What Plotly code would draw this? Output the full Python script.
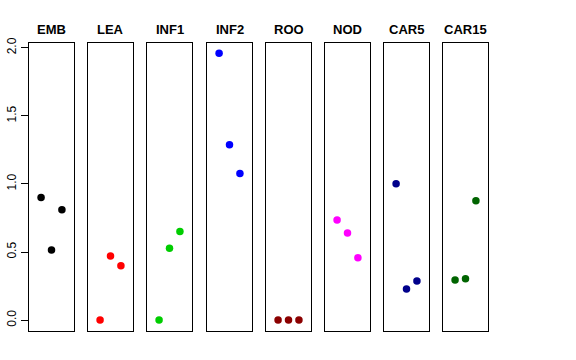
import plotly.graph_objects as go

categories = ["EMB", "LEA", "INF1", "INF2", "ROO", "NOD", "CAR5", "CAR15"]
colors = ["#000000", "#FF0000", "#00CD00", "#0000FF", "#8B0000", "#FF00FF", "#00008B", "#006400"]
positions = [1, 2, 3]
values = {
    "EMB": [0.90, 0.515, 0.81],
    "LEA": [0.0, 0.47, 0.40],
    "INF1": [0.0, 0.527, 0.651],
    "INF2": [1.96, 1.287, 1.076],
    "ROO": [0.0, 0.0, 0.0],
    "NOD": [0.735, 0.64, 0.458],
    "CAR5": [1.002, 0.228, 0.287],
    "CAR15": [0.294, 0.304, 0.877],
}
y_ticks = [0, 0.5, 1.0, 1.5, 2.0]
y_tick_labels = ["0.0", "0.5", "1.0", "1.5", "2.0"]

W, H = 576, 360
lefts = [29, 88, 147, 207, 266, 325, 384, 443]
pw = 45
top_px, bot_px = 43, 331

fig = go.Figure()
layout = dict(
    width=W, height=H, margin=dict(l=0, r=0, t=0, b=0, autoexpand=False),
    paper_bgcolor="white", plot_bgcolor="white", showlegend=False,
    font=dict(family="Liberation Sans, Arial, sans-serif", color="black"),
)
annotations = []
for i, cat in enumerate(categories):
    n = i + 1
    xa = "x" if n == 1 else f"x{n}"
    ya = "y" if n == 1 else f"y{n}"
    fig.add_trace(go.Scatter(
        x=positions, y=values[cat], mode="markers",
        marker=dict(color=colors[i], size=7.5, line=dict(width=0)),
        xaxis=xa, yaxis=ya, hoverinfo="skip",
    ))
    x0 = lefts[i] / W
    x1 = (lefts[i] + pw) / W
    layout["xaxis" if n == 1 else f"xaxis{n}"] = dict(
        domain=[x0, x1], range=[-0.16, 4.16], showticklabels=False, ticks="",
        showgrid=False, zeroline=False, showline=True, mirror=True,
        linecolor="black", linewidth=1, anchor=ya, fixedrange=True,
        automargin=False,
    )
    yax = dict(
        domain=[1 - bot_px / H, 1 - top_px / H], range=[-0.08, 2.035],
        showgrid=False, zeroline=False, showline=True, mirror=True,
        linecolor="black", linewidth=1, anchor=xa, fixedrange=True,
        automargin=False,
    )
    if n == 1:
        yax.update(tickvals=y_ticks, ticktext=y_tick_labels, ticks="outside",
                   ticklen=7, tickwidth=1, tickcolor="black", tickangle=-90,
                   tickfont=dict(size=12, color="black"))
    else:
        yax.update(showticklabels=False, ticks="")
    layout["yaxis" if n == 1 else f"yaxis{n}"] = yax
    annotations.append(dict(
        text=f"<b>{cat}</b>", x=(lefts[i] + pw / 2) / W, y=1 - 29 / H,
        xref="paper", yref="paper", xanchor="center", yanchor="middle",
        showarrow=False, font=dict(size=13, color="black"),
    ))
layout["annotations"] = annotations
fig.update_layout(**layout)
fig.write_html("out.html", config={"displayModeBar": False},
               post_script="document.body.style.margin='0';")
